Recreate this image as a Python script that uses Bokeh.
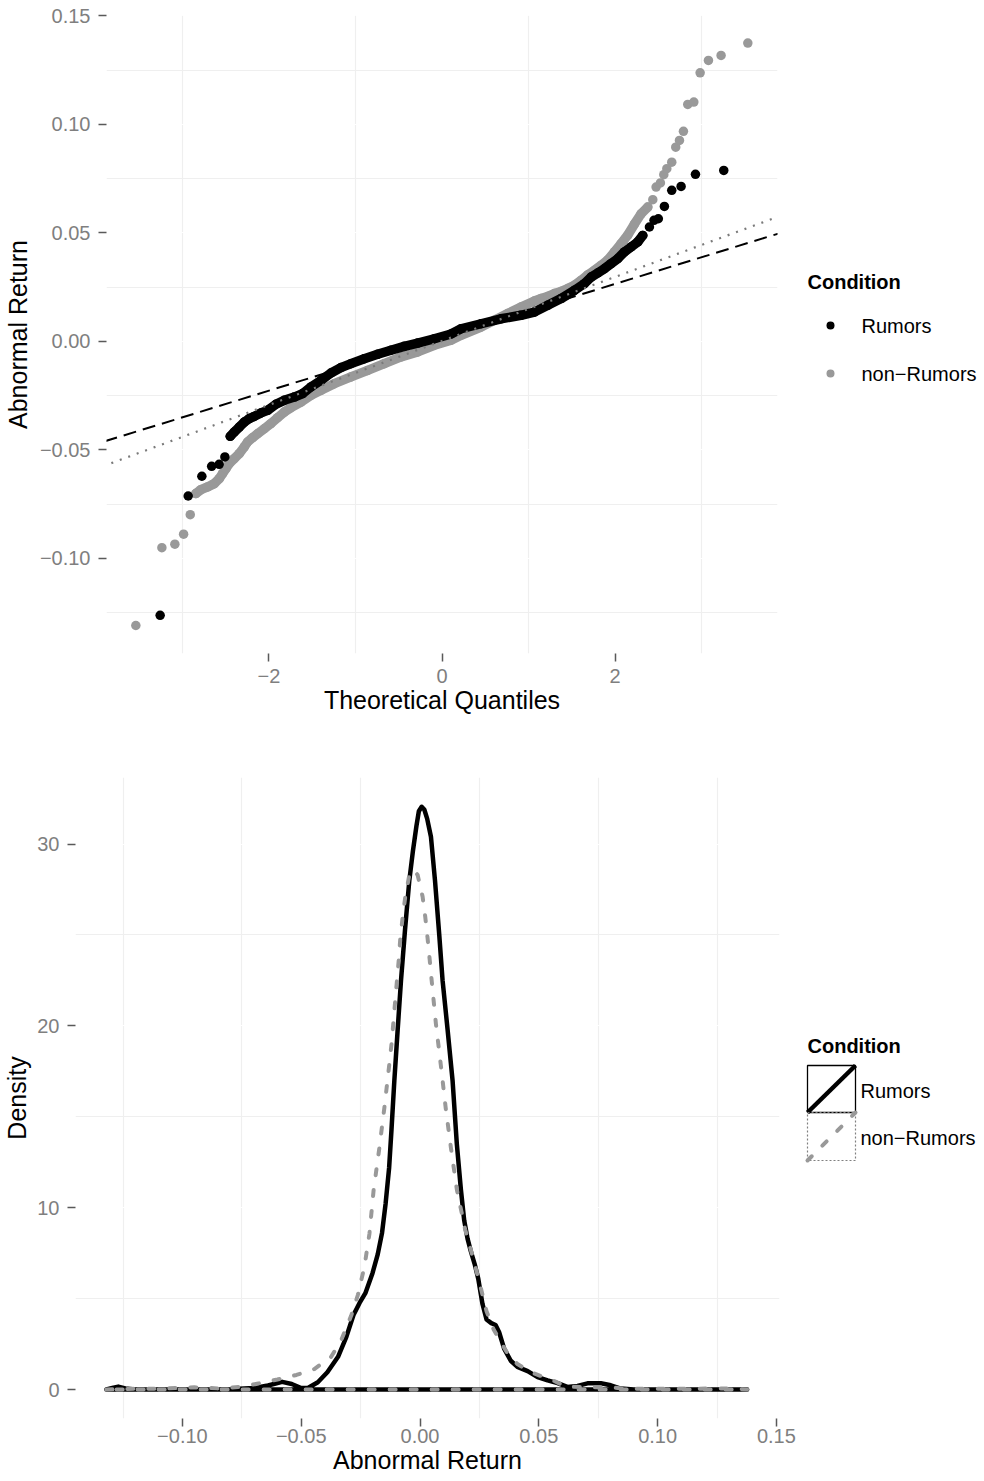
from bokeh.plotting import figure
from bokeh.models import Range1d, FixedTicker, Slope
from bokeh.layouts import column, row
from bokeh.core.properties import value
from bokeh.embed import file_html
from bokeh.resources import INLINE

# ---------------- data ----------------
conditions = ["Rumors", "non\u2212Rumors"]

# QQ plot: theoretical quantile (q) vs abnormal return (v)
rumors_low_q = [-3.257, -2.933, -2.775, -2.662, -2.575, -2.509]
rumors_low_v = [-0.1263, -0.0713, -0.0622, -0.0576, -0.0567, -0.0533]
rumors_bulk_q = [-2.447, -2.401, -2.343, -2.285, -2.227, -2.170, -2.092, -2.015, -1.919, -1.823,
                 -1.707, -1.611, -1.514, -1.399, -1.283, -1.168, -1.052, -0.898, -0.744, -0.590,
                 -0.436, -0.281, -0.089, 0.104, 0.220, 0.451, 0.682, 0.913, 1.067, 1.222,
                 1.376, 1.530, 1.645, 1.723, 1.800, 1.877, 1.954, 2.031, 2.108, 2.185,
                 2.262, 2.320]
rumors_bulk_v = [-0.0438, -0.0418, -0.0395, -0.0372, -0.0356, -0.0346, -0.0330, -0.0318, -0.0290, -0.0272,
                 -0.0257, -0.0241, -0.0210, -0.0180, -0.0146, -0.0121, -0.0103, -0.0080, -0.0060, -0.0041,
                 -0.0023, -0.0008, 0.0012, 0.0034, 0.0058, 0.0081, 0.0104, 0.0120, 0.0135, 0.0166,
                 0.0197, 0.0235, 0.0266, 0.0296, 0.0315, 0.0335, 0.0358, 0.0381, 0.0412, 0.0435,
                 0.0458, 0.0488]
rumors_high_q = [2.397, 2.450, 2.500, 2.570, 2.655, 2.763, 2.929, 3.256]
rumors_high_v = [0.0527, 0.0558, 0.0565, 0.0622, 0.0696, 0.0714, 0.0770, 0.0788]

nonrumors_low_q = [-3.538, -3.237, -3.087, -2.986, -2.909]
nonrumors_low_v = [-0.1310, -0.0951, -0.0935, -0.0889, -0.0799]
nonrumors_bulk_q = [-2.844, -2.786, -2.709, -2.632, -2.574, -2.536, -2.497, -2.459, -2.401, -2.343,
                    -2.285, -2.247, -2.189, -2.131, -2.054, -1.977, -1.900, -1.823, -1.746, -1.630,
                    -1.514, -1.399, -1.245, -1.052, -0.859, -0.667, -0.474, -0.281, -0.089, 0.104,
                    0.220, 0.451, 0.605, 0.759, 0.913, 1.067, 1.145, 1.222, 1.299, 1.376,
                    1.453, 1.530, 1.607, 1.684, 1.761, 1.838, 1.916, 1.992, 2.069, 2.147,
                    2.223, 2.301, 2.378]
nonrumors_bulk_v = [-0.0702, -0.0684, -0.0671, -0.0656, -0.0633, -0.0610, -0.0587, -0.0564, -0.0541, -0.0518,
                    -0.0487, -0.0464, -0.0444, -0.0426, -0.0403, -0.0379, -0.0352, -0.0326, -0.0306, -0.0280,
                    -0.0249, -0.0226, -0.0195, -0.0164, -0.0134, -0.0103, -0.0072, -0.0049, -0.0018, 0.0005,
                    0.0028, 0.0066, 0.0097, 0.0128, 0.0158, 0.0186, 0.0197, 0.0207, 0.0220, 0.0230,
                    0.0243, 0.0258, 0.0281, 0.0306, 0.0327, 0.0350, 0.0375, 0.0412, 0.0450, 0.0490,
                    0.0540, 0.0588, 0.0619]
nonrumors_high_q = [2.436, 2.474, 2.524, 2.563, 2.598, 2.655, 2.701, 2.744, 2.790, 2.840,
                    2.910, 2.983, 3.079, 3.225, 3.534]
nonrumors_high_v = [0.0653, 0.0711, 0.0730, 0.0768, 0.0796, 0.0826, 0.0895, 0.0926, 0.0968, 0.1092,
                    0.1103, 0.1238, 0.1295, 0.1318, 0.1375]

# reference (qq) lines: slope, intercept
rumors_qqline = (0.01230, 0.00186)
nonrumors_qqline = (0.014746, 0.00019)

# density curves
dens_x_rumors = [-0.1320, -0.1290, -0.1270, -0.1240, -0.1200, -0.1000, -0.0800, -0.0700, -0.0640, -0.0580,
                 -0.0540, -0.0500, -0.0470, -0.0430, -0.0390, -0.0345, -0.0310, -0.0280, -0.0255, -0.0230,
                 -0.0200, -0.0178, -0.0160, -0.0145, -0.0130, -0.0120, -0.0108, -0.0094, -0.0080, -0.0063,
                 -0.0045, -0.0030, -0.0015, -0.0005, 0.0007, 0.0018, 0.0030, 0.0046, 0.0063, 0.0081,
                 0.0095, 0.0116, 0.0137, 0.0155, 0.0172, 0.0186, 0.0200, 0.0214, 0.0230, 0.0245,
                 0.0263, 0.0280, 0.0300, 0.0318, 0.0333, 0.0354, 0.0382, 0.0410, 0.0453, 0.0495,
                 0.0537, 0.0579, 0.0620, 0.0663, 0.0705, 0.0761, 0.0803, 0.0845, 0.0900, 0.1100,
                 0.1377]
dens_y_rumors = [0.00, 0.10, 0.16, 0.06, 0.00, 0.00, 0.01, 0.08, 0.22, 0.42,
                 0.30, 0.08, 0.10, 0.40, 0.95, 1.80, 2.90, 4.10, 4.75, 5.30,
                 6.40, 7.43, 8.60, 10.2, 12.2, 14.3, 17.0, 19.8, 22.5, 25.3,
                 28.0, 29.6, 31.0, 31.8, 32.05, 31.9, 31.4, 30.4, 28.0, 25.0,
                 22.5, 19.8, 17.0, 13.5, 11.0, 9.3, 8.3, 7.6, 6.9, 6.1,
                 4.7, 3.85, 3.65, 3.55, 3.15, 2.25, 1.58, 1.24, 1.01, 0.68,
                 0.50, 0.35, 0.14, 0.20, 0.34, 0.34, 0.23, 0.05, 0.00, 0.00,
                 0.00]
dens_x_nonrumors = [-0.1320, -0.1200, -0.1100, -0.0950, -0.0850, -0.0750, -0.0680, -0.0600, -0.0520, -0.0445,
                    -0.0374, -0.0332, -0.0290, -0.0262, -0.0234, -0.0213, -0.0195, -0.0171, -0.0150, -0.0130,
                    -0.0120, -0.0112, -0.0105, -0.0097, -0.0089, -0.0083, -0.0073, -0.0062, -0.0045, -0.0028,
                    -0.0010, 0.0011, 0.0022, 0.0032, 0.0041, 0.0049, 0.0058, 0.0067, 0.0077, 0.0088,
                    0.0108, 0.0130, 0.0155, 0.0190, 0.0220, 0.0250, 0.0280, 0.0310, 0.0340, 0.0368,
                    0.0410, 0.0466, 0.0522, 0.0560, 0.0592, 0.0620, 0.0648, 0.0705, 0.0788, 0.0850,
                    0.0950, 0.1100, 0.1300, 0.1377]
dens_y_nonrumors = [0.00, 0.04, 0.04, 0.12, 0.06, 0.15, 0.33, 0.55, 0.80, 1.12,
                    1.80, 2.70, 4.05, 5.18, 6.75, 8.55, 11.0, 13.3, 15.5, 17.8,
                    19.0, 20.2, 21.3, 22.5, 23.7, 24.8, 26.0, 27.1, 28.3, 28.6,
                    28.3, 27.1, 26.0, 24.8, 23.6, 22.5, 21.3, 20.1, 19.0, 17.8,
                    15.5, 13.3, 11.0, 8.8, 7.4, 5.9, 4.3, 3.3, 2.6, 2.0,
                    1.4, 0.95, 0.68, 0.50, 0.30, 0.12, 0.15, 0.11, 0.14, 0.06,
                    0.04, 0.04, 0.06, 0.00]

# ticks
qq_x_ticks = [-2, 0, 2]
qq_x_labels = ["\u22122", "0", "2"]
qq_x_minor = [-3, -1, 1, 3]
qq_y_ticks = [-0.10, -0.05, 0.0, 0.05, 0.10, 0.15]
qq_y_labels = ["\u22120.10", "\u22120.05", "0.00", "0.05", "0.10", "0.15"]
qq_y_minor = [-0.125, -0.075, -0.025, 0.025, 0.075, 0.125]
d_x_ticks = [-0.10, -0.05, 0.0, 0.05, 0.10, 0.15]
d_x_labels = ["\u22120.10", "\u22120.05", "0.00", "0.05", "0.10", "0.15"]
d_x_minor = [-0.125, -0.075, -0.025, 0.025, 0.075, 0.125]
d_y_ticks = [0, 10, 20, 30]
d_y_labels = ["0", "10", "20", "30"]
d_y_minor = [5, 15, 25]

# ---------------- style ----------------
FONT = "Liberation Sans"
BLACK = "#000000"
GREY = "#999999"
TICK_LABEL = "#7F7F7F"
TICK_LINE = "#595959"
MINOR_GRID = "#EFEFEF"


def style(p, xt, xl, xm, yt, yl, ym):
    p.xaxis.ticker = FixedTicker(ticks=xt, minor_ticks=xm)
    p.yaxis.ticker = FixedTicker(ticks=yt, minor_ticks=ym)
    p.xaxis.major_label_overrides = dict(zip(xt, xl))
    p.yaxis.major_label_overrides = dict(zip(yt, yl))
    p.grid.grid_line_color = "white"
    p.grid.grid_line_width = 1.2
    p.grid.minor_grid_line_color = MINOR_GRID
    p.grid.minor_grid_line_width = 1.2
    p.outline_line_color = None
    for ax in p.axis:
        ax.axis_line_color = None
        ax.major_tick_in = 0
        ax.major_tick_out = 8
        ax.major_tick_line_color = TICK_LINE
        ax.major_tick_line_width = 1.5
        ax.minor_tick_line_color = None
        ax.major_label_text_font = FONT
        ax.major_label_text_font_size = "20px"
        ax.major_label_text_color = TICK_LABEL
        ax.axis_label_text_font = FONT
        ax.axis_label_text_font_size = "25px"
        ax.axis_label_text_font_style = "normal"
        ax.axis_label_text_color = "black"


def legend_canvas(width, height, top, bottom, xr, yr):
    f = figure(width=width, height=height, x_range=Range1d(*xr), y_range=Range1d(*yr),
               toolbar_location=None, output_backend="svg",
               min_border_left=0, min_border_right=0, min_border_top=top, min_border_bottom=bottom,
               x_axis_location=None, y_axis_location=None)
    f.grid.visible = False
    f.outline_line_color = None
    return f


# ---------------- QQ plot ----------------
p1 = figure(width=800, height=738, x_range=Range1d(-3.877, 3.877), y_range=Range1d(-0.1439, 0.1502),
            toolbar_location=None, output_backend="svg",
            min_border_left=105, min_border_right=23, min_border_top=15, min_border_bottom=85,
            x_axis_label="Theoretical Quantiles", y_axis_label="Abnormal Return")
style(p1, qq_x_ticks, qq_x_labels, qq_x_minor, qq_y_ticks, qq_y_labels, qq_y_minor)
p1.xaxis.major_label_standoff = 7
p1.xaxis.axis_label_standoff = 0
p1.yaxis.major_label_standoff = 8
p1.yaxis.axis_label_standoff = 5

PT = 9.5
p1.line(nonrumors_bulk_q, nonrumors_bulk_v, line_width=PT, line_color=GREY, line_cap="round", line_join="round")
for q, v in ((nonrumors_low_q, nonrumors_low_v), (nonrumors_bulk_q, nonrumors_bulk_v), (nonrumors_high_q, nonrumors_high_v)):
    p1.scatter(q, v, size=PT, fill_color=GREY, line_color=None)
p1.line(rumors_bulk_q, rumors_bulk_v, line_width=PT, line_color=BLACK, line_cap="round", line_join="round")
for q, v in ((rumors_low_q, rumors_low_v), (rumors_bulk_q, rumors_bulk_v), (rumors_high_q, rumors_high_v)):
    p1.scatter(q, v, size=PT, fill_color=BLACK, line_color=None)

p1.add_layout(Slope(gradient=rumors_qqline[0], y_intercept=rumors_qqline[1],
                    line_color=BLACK, line_width=2, line_dash="13 7"))
p1.add_layout(Slope(gradient=nonrumors_qqline[0], y_intercept=nonrumors_qqline[1],
                    line_color="#7A7A7A", line_width=2.2, line_dash="2 7"))

# ---------------- legend 1 (canvas in page pixels) ----------------
l1 = legend_canvas(182, 738, 15, 85, (800, 982), (653, 15))
l1.text(x=[807], y=[281], text=["Condition"], text_font=value(FONT), text_font_size="20px",
        text_font_style="bold", text_baseline="middle", text_align="left", text_color="black")
l1.scatter(x=[830, 830], y=[325, 373], size=8, fill_color=[BLACK, GREY], line_color=None)
l1.text(x=[861, 861], y=[325, 373], text=conditions, text_font=value(FONT), text_font_size="20px",
        text_baseline="middle", text_align="left", text_color="black")

# ---------------- density plot ----------------
p2 = figure(width=800, height=741, x_range=Range1d(-0.1450, 0.1513), y_range=Range1d(-1.595, 33.66),
            toolbar_location=None, output_backend="svg",
            min_border_left=74, min_border_right=21, min_border_top=39, min_border_bottom=61,
            x_axis_label="Abnormal Return", y_axis_label="Density")
style(p2, d_x_ticks, d_x_labels, d_x_minor, d_y_ticks, d_y_labels, d_y_minor)
p2.xaxis.major_label_standoff = 2
p2.xaxis.axis_label_standoff = 0
p2.yaxis.major_label_standoff = 8
p2.yaxis.axis_label_standoff = 3

p2.patch(dens_x_rumors, dens_y_rumors, fill_color=None, line_color=BLACK, line_width=4.5, line_join="round")
p2.patch(dens_x_nonrumors, dens_y_nonrumors, fill_color=None, line_color=GREY, line_width=4,
         line_dash="6 15", line_cap="round", line_join="round")

# ---------------- legend 2 (canvas in page pixels) ----------------
l2 = legend_canvas(182, 741, 39, 61, (800, 982), (1418, 777))
l2.text(x=[807], y=[1045], text=["Condition"], text_font=value(FONT), text_font_size="20px",
        text_font_style="bold", text_baseline="middle", text_align="left", text_color="black")
l2.quad(left=[807], right=[855], top=[1065], bottom=[1112], fill_color=None, line_color=BLACK, line_width=1.3)
l2.segment(x0=[807], y0=[1112], x1=[855], y1=[1065], line_color=BLACK, line_width=4.5)
l2.quad(left=[807], right=[855], top=[1112], bottom=[1160], fill_color=None, line_color="#808080",
        line_width=1.2, line_dash="2 2")
l2.segment(x0=[807], y0=[1160], x1=[855], y1=[1112], line_color=GREY, line_width=4,
           line_dash="6 15", line_cap="round")
l2.text(x=[860, 860], y=[1090, 1137], text=conditions, text_font=value(FONT), text_font_size="20px",
        text_baseline="middle", text_align="left", text_color="black")

layout = column(row(p1, l1), row(p2, l2))
open("out.html", "w").write(file_html(layout, INLINE))
